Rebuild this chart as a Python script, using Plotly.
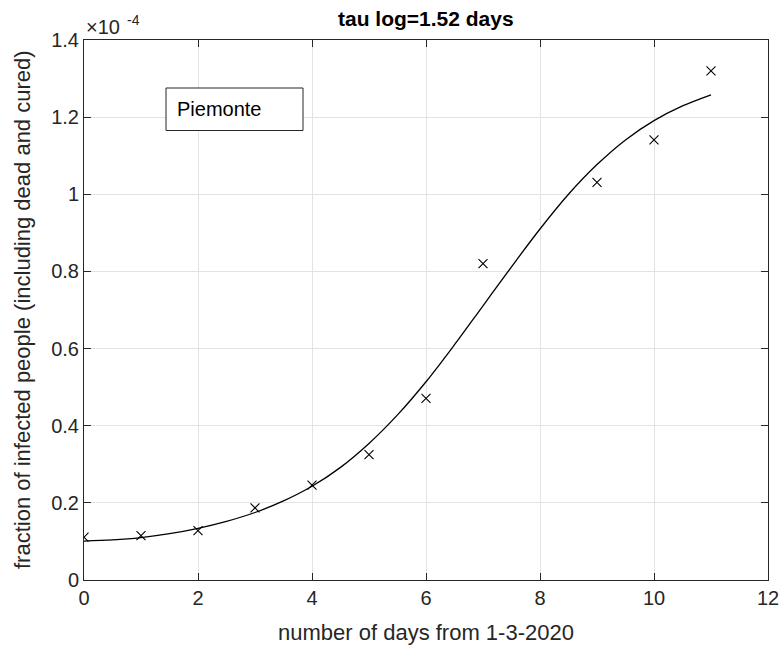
import plotly.graph_objects as go

# ---- data (fraction of infected people, in units of 1e-4) ----
days_obs = [0, 1, 2, 3, 4, 5, 6, 7, 9, 10, 11]
infected_obs = [0.111, 0.115, 0.128, 0.187, 0.246, 0.325, 0.471, 0.820, 1.031, 1.141, 1.320]

days_fit = [0, 0.5, 1, 1.5, 2, 2.5, 3, 3.5, 4, 4.5, 5, 5.5, 6, 6.5, 7, 7.5, 8, 8.5, 9, 9.5, 10, 10.5, 11]
infected_fit = [0.101, 0.104, 0.110, 0.120, 0.134, 0.152, 0.175, 0.205, 0.243, 0.292, 0.354, 0.428,
                0.514, 0.610, 0.711, 0.812, 0.910, 1.000, 1.077, 1.141, 1.191, 1.229, 1.258]

x_ticks = [0, 2, 4, 6, 8, 10, 12]
y_ticks = [0, 0.2, 0.4, 0.6, 0.8, 1.0, 1.2, 1.4]
y_tick_text = ["0", "0.2", "0.4", "0.6", "0.8", "1", "1.2", "1.4"]

title_text = "tau log=1.52 days"
x_label = "number of days from 1-3-2020"
y_label = "fraction of infected people (including dead and cured)"
legend_text = "Piemonte"
exp_base = "×10"
exp_power = "-4"

W, H = 782, 646
L, R, T, B = 84, 14, 40, 66
pw, ph = W - L - R, H - T - B

def px_x(p):
    return (p - L) / pw

def px_y(p):
    return (H - B - p) / ph

FONT = "Liberation Sans, Arial, Helvetica, sans-serif"
AX = "#262626"

fig = go.Figure()
fig.add_trace(go.Scatter(x=days_fit, y=infected_fit, mode="lines",
                         line=dict(color="black", width=1.3, shape="spline", smoothing=1.0),
                         showlegend=False, hoverinfo="skip"))
fig.add_trace(go.Scatter(x=days_obs, y=infected_obs, mode="markers",
                         marker=dict(symbol="x-thin", size=9, color="black",
                                     line=dict(color="black", width=1.1)),
                         showlegend=False))

axis_common = dict(showline=True, linecolor=AX, linewidth=1, mirror="ticks",
                   ticks="inside", ticklen=7, tickwidth=1, tickcolor=AX,
                   showgrid=True, gridcolor="#e3e3e3", gridwidth=1, zeroline=False,
                   automargin=False,
                   tickfont=dict(family=FONT, size=20, color=AX))

fig.update_xaxes(range=[0, 12], tickvals=x_ticks, ticktext=[str(v) for v in x_ticks], **axis_common)
fig.update_yaxes(range=[0, 1.4], tickvals=y_ticks, ticktext=y_tick_text, **axis_common)

annotations = [
    dict(text="<b>" + title_text + "</b>", x=0.5, y=px_y(18), xref="paper", yref="paper",
         xanchor="center", yanchor="middle", showarrow=False,
         font=dict(family=FONT, size=21, color="black")),
    dict(text=x_label, x=0.5, y=px_y(632), xref="paper", yref="paper",
         xanchor="center", yanchor="middle", showarrow=False,
         font=dict(family=FONT, size=22, color=AX)),
    dict(text=y_label, x=px_x(22), y=0.5, xref="paper", yref="paper",
         xanchor="center", yanchor="middle", textangle=-90, showarrow=False,
         font=dict(family=FONT, size=22, color=AX)),
    dict(text=exp_base, x=px_x(86), y=px_y(27), xref="paper", yref="paper",
         xanchor="left", yanchor="middle", showarrow=False, xshift=-2,
         font=dict(family=FONT, size=20, color=AX)),
    dict(text=exp_power, x=px_x(127), y=px_y(20), xref="paper", yref="paper",
         xanchor="left", yanchor="middle", showarrow=False, xshift=-2,
         font=dict(family=FONT, size=14, color=AX)),
    dict(text=legend_text, x=px_x(177), y=px_y(109.5), xref="paper", yref="paper",
         xanchor="left", yanchor="middle", showarrow=False, xshift=-2,
         font=dict(family=FONT, size=20, color="black")),
]

shapes = [
    dict(type="rect", xref="paper", yref="paper",
         x0=px_x(166), x1=px_x(303), y0=px_y(130.5), y1=px_y(88),
         line=dict(color=AX, width=1), fillcolor="white", layer="above"),
]

fig.update_layout(width=W, height=H, margin=dict(l=L, r=R, t=T, b=B),
                  paper_bgcolor="white", plot_bgcolor="white",
                  annotations=annotations, shapes=shapes, showlegend=False)

fig.write_html("out.html")
